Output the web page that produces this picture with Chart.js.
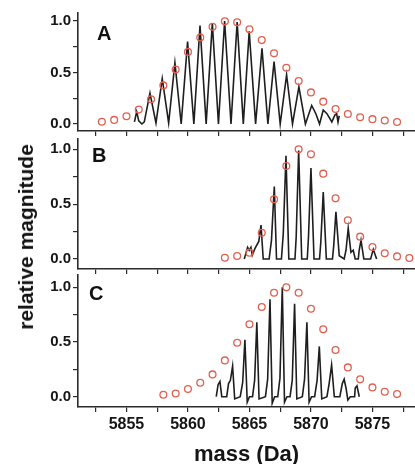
<!DOCTYPE html>
<html>
<head>
<meta charset="utf-8">
<title>Isotope distributions</title>
<script src="https://cdn.jsdelivr.net/npm/chart.js@4"></script>
<style>
    html, body { margin: 0; padding: 0; background: #fff; }
    #wrap { position: relative; width: 415px; height: 464px; overflow: hidden; font-family: "Liberation Sans", Arial, sans-serif; color: #111; }
    #wrap canvas { position: absolute; left: 0; }
    .panel-letter { position: absolute; font-weight: bold; font-size: 20px; line-height: 20px; }
    #ytitle { position: absolute; left: 26px; top: 237px; font-weight: bold; font-size: 21px; white-space: nowrap; transform: translate(-50%, -50%) rotate(-90deg); }
</style>
</head>
<body>
<div id="wrap">
    <canvas id="panelA" width="415" height="140" style="top:0px"></canvas>
    <canvas id="panelB" width="415" height="143" style="top:135px"></canvas>
    <canvas id="panelC" width="415" height="194" style="top:270px"></canvas>
    <div class="panel-letter" style="left:97px; top:23px">A</div>
    <div class="panel-letter" style="left:92px; top:145px">B</div>
    <div class="panel-letter" style="left:89px; top:283px">C</div>
    <div id="ytitle">relative magnitude</div>
</div>
<script>
// Axis ticks (minor every 2.5 Da / 0.25, labels only on the major ones)
const xTickValues = [5852.5, 5855, 5857.5, 5860, 5862.5, 5865, 5867.5, 5870, 5872.5, 5875, 5877.5];
const xLabelValues = [5855, 5860, 5865, 5870, 5875];
const yTickValues = [0, 0.25, 0.5, 0.75, 1];
const yLabelValues = [0, 0.5, 1];

// Panel A - theoretical isotope pattern (circles) and measured spectrum (line)
const massA = [5853, 5854, 5855, 5856, 5857, 5858, 5859, 5860, 5861, 5862, 5863, 5864, 5865,
    5866, 5867, 5868, 5869, 5870, 5871, 5872, 5873, 5874, 5875, 5876, 5877];
const theoA = [0.022, 0.04, 0.075, 0.14, 0.24, 0.375, 0.53, 0.70, 0.84, 0.945, 0.997, 0.987, 0.92,
    0.815, 0.686, 0.547, 0.417, 0.307, 0.217, 0.146, 0.097, 0.065, 0.047, 0.034, 0.02];
const traceMassA = [5855.65, 5855.83, 5856.0, 5856.25, 5856.45, 5856.91, 5857.4, 5857.91, 5858.43, 5858.94,
    5859.45, 5859.97, 5860.48, 5860.98, 5861.48, 5861.98, 5862.48, 5862.98, 5863.5, 5864.0,
    5864.5, 5864.98, 5865.5, 5866.02, 5866.5, 5867.0, 5867.5, 5868.02, 5868.5, 5869.02,
    5869.55, 5870.06, 5870.4, 5870.7, 5871.0, 5871.3, 5871.7, 5871.95, 5872.09, 5872.2, 5872.3];
const traceA = [0.02, 0.12, 0.03, 0.0, 0.02, 0.30, 0.01, 0.44, 0.01, 0.595,
    0.0, 0.80, 0.0, 0.955, 0.0, 0.98, 0.0, 1.0, 0.0, 0.99,
    0.0, 0.90, 0.0, 0.735, 0.0, 0.605, 0.0, 0.476, 0.0, 0.36,
    0.0, 0.18, 0.10, 0.0, 0.136, 0.10, 0.02, 0.087, 0.10, 0.02, 0.08];

// Panel B
const massB = [5863, 5864, 5865, 5866, 5867, 5868, 5869, 5870, 5871, 5872, 5873, 5874, 5875, 5876, 5877, 5878];
const theoB = [0.012, 0.027, 0.058, 0.24, 0.544, 0.848, 1.0, 0.954, 0.778, 0.553, 0.353, 0.204, 0.109, 0.052, 0.024, 0.009];
const traceMassB = [5864.58, 5864.85, 5864.98, 5865.12, 5865.23, 5865.45, 5865.76, 5865.94, 5866.12,
    5866.6, 5866.79, 5867.02, 5867.2, 5867.6, 5867.75, 5867.97, 5868.2, 5868.7, 5868.8, 5869.0, 5869.25,
    5869.7, 5869.8, 5870.0, 5870.25, 5870.7, 5870.8, 5871.0, 5871.25, 5871.75, 5871.85, 5872.03, 5872.3,
    5872.7, 5872.85, 5873.03, 5873.25, 5873.44, 5873.6, 5873.85, 5873.92, 5874.07, 5874.3, 5874.85, 5875.07, 5875.34];
const traceB = [0.0, 0.107, 0.08, 0.107, 0.036, 0.097, 0.16, 0.31, 0.0,
    0.0, 0.17, 0.66, 0.0, 0.0, 0.23, 0.94, 0.0, 0.0, 0.2, 0.99, 0.0,
    0.0, 0.2, 0.83, 0.0, 0.0, 0.15, 0.61, 0.0, 0.0, 0.12, 0.43, 0.03,
    0.0, 0.08, 0.28, 0.06, 0.08, 0.0, 0.0, 0.08, 0.17, 0.0, 0.0, 0.088, 0.0];

// Panel C
const massC = [5858, 5859, 5860, 5861, 5862, 5863, 5864, 5865, 5866, 5867,
    5868, 5869, 5870, 5871, 5872, 5873, 5874, 5875, 5876, 5877];
const theoC = [0.018, 0.030, 0.070, 0.128, 0.204, 0.332, 0.494, 0.662, 0.82, 0.951,
    1.0, 0.951, 0.805, 0.616, 0.427, 0.268, 0.159, 0.085, 0.046, 0.024];
const traceMassC = [5862.3, 5862.45, 5862.6, 5862.75, 5863.15, 5863.3, 5863.45, 5863.63, 5863.8,
    5864.25, 5864.45, 5864.63, 5864.82, 5865.0, 5865.25, 5865.42, 5865.6, 5865.78,
    5866.3, 5866.48, 5866.67, 5866.85, 5867.05, 5867.3, 5867.48, 5867.67, 5867.85, 5868.05,
    5868.3, 5868.48, 5868.67, 5868.85, 5869.3, 5869.48, 5869.67, 5869.85, 5870.05,
    5870.3, 5870.5, 5870.68, 5870.88, 5871.3, 5871.48, 5871.68, 5871.9,
    5872.35, 5872.55, 5872.7, 5872.85, 5873.0, 5873.2, 5873.55, 5873.6, 5873.74, 5873.93];
const traceC = [0.0, 0.11, 0.14, 0.0, 0.0, 0.12, 0.15, 0.28, -0.02,
    0.0, 0.13, 0.52, -0.05, 0.0, 0.0, 0.15, 0.68, -0.02,
    0.0, 0.16, 0.89, -0.06, 0.0, 0.0, 0.17, 1.0, -0.05, 0.0,
    0.0, 0.15, 0.85, -0.02, 0.0, 0.16, 0.68, -0.05, 0.0,
    0.0, 0.15, 0.46, -0.02, 0.0, 0.12, 0.29, 0.0,
    0.0, 0.12, 0.16, 0.08, -0.03, 0.0, 0.0, 0.08, 0.10, 0.0];

const axisColor = '#2b2b2b';
const textColor = '#151515';
const circleColor = 'rgb(226, 96, 80)';
const fontFamily = '"Liberation Sans", Arial, sans-serif';

const toPoints = (xs, ys) => xs.map((x, i) => ({ x: x, y: ys[i] }));

function makePanel(id, mass, theo, traceMass, trace, yMin, yMax, padTop, xHeight, withXLabels) {
    const xScale = {
        type: 'linear',
        position: 'bottom',
        min: 5851.06,
        max: 5878.46,
        border: { display: true, color: axisColor, width: 1.6 },
        grid: { drawOnChartArea: false, drawTicks: true, tickLength: 5, color: axisColor, lineWidth: 1.2 },
        ticks: {
            padding: 3,
            maxRotation: 0,
            autoSkip: false,
            color: textColor,
            font: { family: fontFamily, size: 16, weight: 'bold' },
            callback: (v) => (withXLabels && xLabelValues.includes(v)) ? String(v) : ''
        },
        afterBuildTicks: (scale) => { scale.ticks = xTickValues.map(v => ({ value: v })); },
        afterFit: (scale) => { scale.height = xHeight; scale.paddingLeft = 0; scale.paddingRight = 0; }
    };
    if (withXLabels) {
        xScale.title = {
            display: true,
            text: 'mass (Da)',
            color: textColor,
            padding: 0,
            font: { family: fontFamily, size: 22, weight: 'bold', lineHeight: 0.8 }
        };
    }

    return new Chart(document.getElementById(id), {
        type: 'scatter',
        data: {
            datasets: [
                {
                    // theoretical distribution, drawn on top
                    data: toPoints(mass, theo),
                    showLine: false,
                    pointStyle: 'circle',
                    pointRadius: 3.4,
                    pointBorderWidth: 1.3,
                    pointBorderColor: circleColor,
                    pointBackgroundColor: 'rgba(255,255,255,0)'
                },
                {
                    // measured spectrum
                    data: toPoints(traceMass, trace),
                    showLine: true,
                    borderColor: '#1e1e1e',
                    borderWidth: 1.6,
                    pointRadius: 0,
                    tension: 0
                }
            ]
        },
        options: {
            responsive: false,
            animation: false,
            devicePixelRatio: 1,
            layout: { autoPadding: false, padding: { top: padTop, left: 0, right: 0, bottom: 0 } },
            plugins: { legend: { display: false }, tooltip: { enabled: false } },
            scales: {
                x: xScale,
                y: {
                    type: 'linear',
                    min: yMin,
                    max: yMax,
                    border: { display: true, color: axisColor, width: 1.6 },
                    grid: { drawOnChartArea: false, drawTicks: true, tickLength: 5, color: axisColor, lineWidth: 1.2 },
                    ticks: {
                        padding: 2,
                        color: textColor,
                        font: { family: fontFamily, size: 15, weight: 'bold' },
                        callback: (v) => yLabelValues.includes(v) ? v.toFixed(1) : ''
                    },
                    afterBuildTicks: (scale) => { scale.ticks = yTickValues.map(v => ({ value: v })); },
                    afterFit: (scale) => { scale.width = 78; scale.paddingTop = 0; scale.paddingBottom = 0; }
                }
            }
        }
    });
}

makePanel('panelA', massA, theoA, traceMassA, traceA, -0.068, 1.078, 13, 9, false);
makePanel('panelB', massB, theoB, traceMassB, traceB, -0.091, 1.094, 4, 9, false);
makePanel('panelC', massC, theoC, traceMassC, traceC, -0.094, 1.113, 5, 57, true);
</script>
</body>
</html>
